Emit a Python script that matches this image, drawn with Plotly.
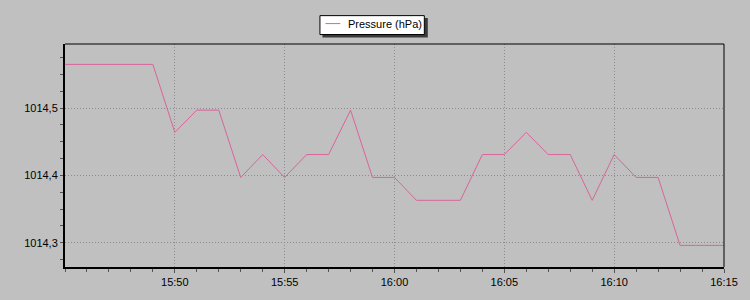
import plotly.graph_objects as go

times = ["15:45", "15:46", "15:47", "15:48", "15:49", "15:50", "15:51", "15:52",
         "15:53", "15:54", "15:55", "15:56", "15:57", "15:58", "15:59", "16:00",
         "16:01", "16:02", "16:03", "16:04", "16:05", "16:06", "16:07", "16:08",
         "16:09", "16:10", "16:11", "16:12", "16:13", "16:14", "16:15"]
pressure = [1014.565, 1014.565, 1014.565, 1014.565, 1014.565, 1014.464, 1014.497, 1014.497,
            1014.397, 1014.431, 1014.397, 1014.431, 1014.431, 1014.497, 1014.397, 1014.397,
            1014.363, 1014.363, 1014.363, 1014.431, 1014.431, 1014.464, 1014.431, 1014.431,
            1014.363, 1014.431, 1014.397, 1014.397, 1014.296, 1014.296, 1014.296]
x_tick_labels = ["15:50", "15:55", "16:00", "16:05", "16:10", "16:15"]
y_tick_values = [1014.3, 1014.4, 1014.5]
series_name = "Pressure (hPa)"
day = "2024-01-01 "

x = [day + t + ":00" for t in times]
x_ticks = [day + t + ":00" for t in x_tick_labels]

BG = "#c0c0c0"
LINE = "#d9649a"
GRID = "#8c8c8c"
FONT = "Liberation Sans, Arial, sans-serif"

fig = go.Figure()
fig.add_trace(go.Scatter(x=x, y=pressure, mode="lines", name=series_name,
                         line=dict(color=LINE, width=1), showlegend=False))

L, R, T, B = 65, 22, 44, 32
W, H = 750, 300
pw, ph = W - L - R, H - T - B


def px_x(p):
    return (p - L) / pw


def px_y(p):
    return (H - B - p) / ph


shapes = [
    # thin top / right frame
    dict(type="line", xref="paper", yref="paper", x0=0, x1=1, y0=1, y1=1,
         line=dict(color="black", width=1)),
    dict(type="line", xref="paper", yref="paper", x0=1, x1=1, y0=0, y1=1,
         line=dict(color="black", width=1)),
    # legend shadow
    dict(type="rect", xref="paper", yref="paper", layer="above",
         x0=px_x(324), x1=px_x(430), y0=px_y(37.5), y1=px_y(18),
         fillcolor="#3a3a3a", line=dict(width=0)),
    # legend box
    dict(type="rect", xref="paper", yref="paper", layer="above",
         x0=px_x(321.5), x1=px_x(426.5), y0=px_y(34.5), y1=px_y(15.5),
         fillcolor="white", line=dict(color="black", width=1)),
    # legend sample line
    dict(type="line", xref="paper", yref="paper", layer="above",
         x0=px_x(327), x1=px_x(342), y0=px_y(23.5), y1=px_y(23.5),
         line=dict(color=LINE, width=1)),
]

annotations = [
    dict(text=series_name, xref="paper", yref="paper", x=px_x(348), y=px_y(24),
         xanchor="left", yanchor="middle", showarrow=False,
         font=dict(family=FONT, size=11, color="black")),
]

fig.update_layout(
    width=W, height=H,
    margin=dict(l=L, r=R, t=T, b=B),
    paper_bgcolor=BG, plot_bgcolor=BG,
    separators=",.",
    font=dict(family=FONT, size=11, color="black"),
    showlegend=False,
    xaxis=dict(type="date", range=[day + "15:45:00", day + "16:15:00"],
               tickvals=x_ticks, ticktext=x_tick_labels,
               showgrid=True, gridcolor=GRID, griddash="1px,2px", gridwidth=1,
               showline=True, linecolor="black", linewidth=2,
               ticks="outside", ticklen=4, tickcolor="#555555",
               minor=dict(dtick=60 * 1000, ticks="outside", ticklen=3,
                          tickcolor="#555555", showgrid=False),
               zeroline=False, fixedrange=True),
    yaxis=dict(range=[1014.2639, 1014.5953], tickvals=y_tick_values,
               tickformat=".1f",
               showgrid=True, gridcolor=GRID, griddash="1px,2px", gridwidth=1,
               showline=True, linecolor="black", linewidth=2,
               ticks="outside", ticklen=3, tickcolor="#555555",
               minor=dict(dtick=0.025, tick0=1014.3, ticks="outside", ticklen=3,
                          tickcolor="#555555", showgrid=False),
               zeroline=False, fixedrange=True),
    shapes=shapes,
    annotations=annotations,
)

fig.write_html("out.html")
